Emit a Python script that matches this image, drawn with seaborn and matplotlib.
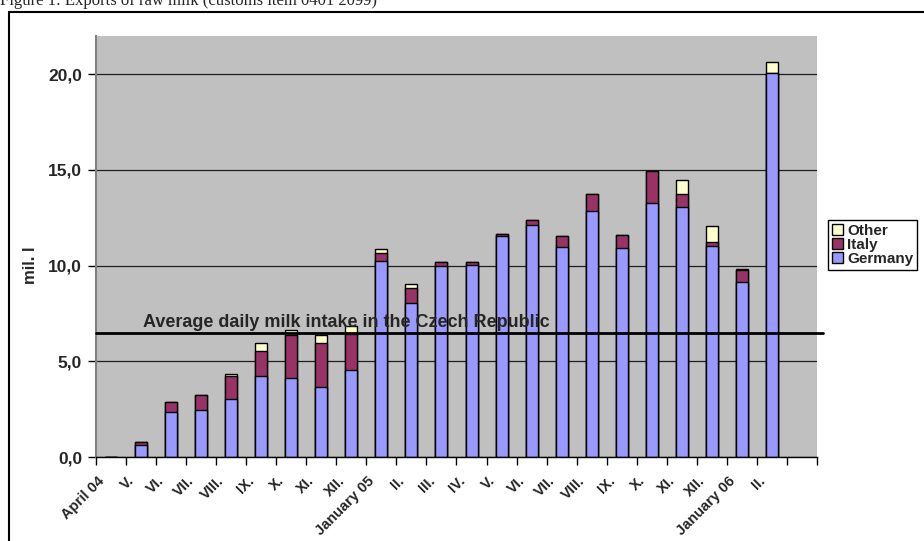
import numpy as np
import pandas as pd
import matplotlib
matplotlib.use("Agg")
import matplotlib.pyplot as plt
import matplotlib.patches as mpatches
import matplotlib.transforms as mtransforms
import seaborn as sns

# ---- data ----
categories = ["April 04", "V.", "VI.", "VII.", "VIII.", "IX.", "X.", "XI.", "XII.",
              "January 05", "II.", "III.", "IV.", "V.", "VI.", "VII.", "VIII.", "IX.",
              "X.", "XI.", "XII.", "January 06", "II."]
germany = [0.0, 0.65, 2.35, 2.45, 3.05, 4.25, 4.15, 3.65, 4.55, 10.25, 8.05, 10.0,
           10.05, 11.55, 12.1, 10.95, 12.85, 10.9, 13.25, 13.05, 11.05, 9.15, 20.05]
italy = [0.0, 0.12, 0.5, 0.8, 1.2, 1.3, 2.2, 2.3, 1.9, 0.4, 0.8, 0.2,
         0.12, 0.12, 0.3, 0.6, 0.9, 0.7, 1.7, 0.7, 0.2, 0.6, 0.0]
other = [0.0, 0.0, 0.0, 0.0, 0.1, 0.4, 0.3, 0.4, 0.4, 0.2, 0.2, 0.0,
         0.0, 0.0, 0.0, 0.0, 0.0, 0.0, 0.0, 0.7, 0.8, 0.1, 0.6]
avg_intake = 6.5
avg_label = "Average daily milk intake in the Czech Republic"
yticks = [0, 5, 10, 15, 20]

# ---- style ----
sns.set_style("ticks")
plt.rcParams["font.family"] = ["Liberation Sans", "DejaVu Sans"]
plt.rcParams["font.weight"] = "bold"

c_germany = "#9999FF"
c_italy = "#993366"
c_other = "#FFFFCC"

keys = [f"c{i:02d}" for i in range(len(categories))]
df = pd.DataFrame({"key": keys, "Germany": germany, "Italy": italy, "Other": other})
df["lvl_italy"] = df["Germany"] + df["Italy"]
df["lvl_other"] = df["lvl_italy"] + df["Other"]

fig = plt.figure(figsize=(9.24, 5.41), dpi=100)
W, H = 924, 541
ax = fig.add_axes([96 / W, 1 - 457 / H, (817 - 96) / W, (457 - 36) / H])
ax.set_facecolor("#C0C0C0")

common = dict(data=df, x="key", order=keys, width=0.4, edgecolor="black",
              linewidth=1.0, saturation=1, ax=ax, zorder=2)
sns.barplot(y="lvl_other", color=c_other, **common)
sns.barplot(y="lvl_italy", color=c_italy, **common)
sns.barplot(y="Germany", color=c_germany, **common)

n_slots = len(categories) + 1
ax.set_xlim(-0.5, n_slots - 0.5)
ax.set_ylim(0, 22)
ax.set_xlabel("")

# y axis
ax.set_yticks(yticks)
ax.set_yticklabels([f"{v:.1f}".replace(".", ",") for v in yticks],
                   fontsize=12.5, fontweight="bold")
ax.yaxis.grid(True, color="#202020", linewidth=0.9)
ax.set_axisbelow(True)
ax.tick_params(axis="y", length=6, width=1, color="black", pad=4)

# x axis: ticks at category boundaries, labels at centres
ax.set_xticks(np.arange(-0.5, n_slots, 1.0))
ax.set_xticklabels([])
ax.set_xticks(np.arange(len(categories)), minor=True)
ax.set_xticklabels(categories, minor=True, rotation=45, ha="right",
                   rotation_mode="anchor", fontsize=10.5, fontweight="bold")
ax.tick_params(axis="x", which="major", length=6, width=1, color="black")
ax.tick_params(axis="x", which="minor", length=0, pad=12)
offset = mtransforms.ScaledTranslation(-14 / 100, 0, fig.dpi_scale_trans)
for lbl in ax.get_xticklabels(minor=True):
    lbl.set_transform(lbl.get_transform() + offset)

for s in ["top", "right"]:
    ax.spines[s].set_visible(False)
ax.spines["left"].set_color("#808080")
ax.spines["left"].set_linewidth(1.5)
ax.spines["bottom"].set_color("black")
ax.spines["bottom"].set_linewidth(1.0)
ax.spines["bottom"].set_zorder(4)

ax.set_ylabel("mil. l", fontsize=12, fontweight="bold")
ax.yaxis.set_label_coords(-0.0805, 0.456)

# average intake line
ax.axhline(avg_intake, xmin=0, xmax=(823 - 96) / (817 - 96), color="black",
           linewidth=2, zorder=5, clip_on=False)
ax.text(1.07, 6.79, avg_label, fontsize=13, fontweight="bold", ha="left",
        va="baseline", zorder=6)

# legend
handles = [mpatches.Patch(facecolor=c, edgecolor="black", linewidth=1, label=l)
           for c, l in [(c_other, "Other"), (c_italy, "Italy"), (c_germany, "Germany")]]
leg = fig.legend(handles=handles, loc="upper left",
                 bbox_to_anchor=(828 / W, 1 - 220 / H), frameon=True, fancybox=False,
                 edgecolor="black", framealpha=1, prop={"size": 11, "weight": "bold"},
                 handlelength=0.7, handleheight=0.7, handletextpad=0.3,
                 labelspacing=0.0, borderpad=0.25, borderaxespad=0)
leg.get_frame().set_linewidth(1.0)

# outer frame and (partly cut off, as in the source) caption
fig.patches.append(mpatches.Rectangle((9 / W, -0.1), 1.2, 1 - 12 / H + 0.1,
                                      transform=fig.transFigure, fill=False,
                                      edgecolor="black", linewidth=1.5))
fig.text(0.0, 1 - 5 / H, "Figure 1: Exports of raw milk (customs item 0401 2099)",
         family=["Liberation Serif", "DejaVu Serif"], fontweight="normal",
         fontsize=12, ha="left", va="baseline")

fig.savefig("out.png", dpi=100)
